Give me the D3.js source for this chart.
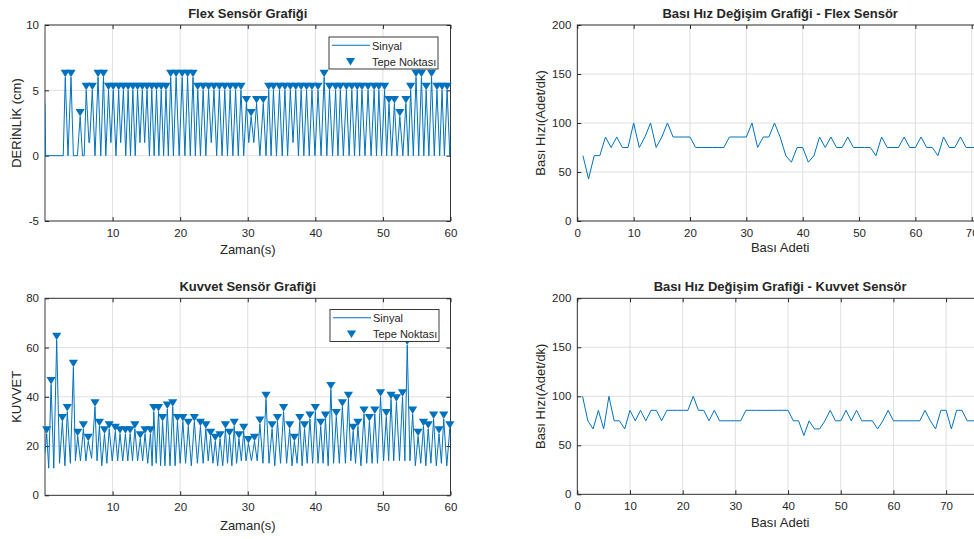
<!DOCTYPE html>
<html>
<head>
<meta charset="utf-8">
<script src="https://cdn.jsdelivr.net/npm/d3@7"></script>
<style>
  body { margin: 0; background: #fff; overflow: hidden; }
  svg { display: block; }
  text { font-family: "Liberation Sans", Arial, Helvetica, sans-serif; fill: #262626; }
</style>
</head>
<body>
<svg id="fig" width="974" height="539"></svg>
<script>
// ---- Flex sensor: detected peaks (time s, depth cm) ----
const flexPeakTime = [3.0,3.85,5.2,6.1,7.0,7.85,8.65,9.4,10.1,10.9,11.6,12.3,13.0,13.7,14.4,15.1,15.8,16.5,17.2,17.9,
  18.6,19.4,20.3,21.1,21.9,22.6,23.4,24.2,25.0,25.8,26.6,27.4,28.2,29.0,29.8,30.5,31.3,32.3,33.1,33.8,
  34.7,35.5,36.3,37.1,37.9,38.7,39.5,40.4,41.3,42.1,43.0,43.7,44.6,45.4,46.2,46.9,47.8,48.7,49.4,50.25,
  50.9,51.7,52.5,53.4,54.1,54.9,55.7,56.4,57.2,58.0,58.75,59.5];
const flexPeakDepth = [6,6,3,5,5,6,6,5,5,5,5,5,5,5,5,5,5,5,5,5,
  6,6,6,6,6,5,5,5,5,5,5,5,5,5,4,3,4,4,5,5,
  5,5,5,5,5,5,5,5,6,5,5,5,5,5,5,5,5,5,5,5,
  4,4,3,4,5,6,6,5,6,5,5,5];
// ---- Flex sensor: signal minima between compressions ----
const flexTroughTime = [0,0.1,2.7,3.4,4.2,4.8,5.55,5.8,6.5,6.6,7.4,8.25,9.0,9.75,10.5,11.2,11.95,12.65,13.35,14.05,
  14.75,15.45,16.15,16.85,17.55,18.25,19.0,19.85,20.7,21.5,22.25,23.0,23.8,24.6,25.4,26.2,27.0,27.8,28.6,29.4,
  30.15,30.9,31.8,32.7,33.45,34.25,35.1,35.9,36.7,37.5,38.3,39.1,39.95,40.85,41.7,42.55,43.35,44.15,45.0,45.8,
  46.55,47.35,48.25,49.05,49.8,50.55,51.3,52.1,52.95,53.75,54.5,55.3,56.05,56.8,57.6,58.4,59.1,59.9,60];
const flexTroughDepth = [4,0,0,0,0,0,0,0,1,1,0,0,0,1,0,1,0,0,0,1,
  1,0,0,0,0,0,0,0,0,0,0,0,0,1,0,0,0,0,0,0,
  1,1,0,0,0,0,0,0,1,0,0,0,0,0,0,0,0,0,0,0,
  0,0,0,0,0,0,0,0,0,0,0,0,0,0,0,0,0,0,1];

// ---- Force sensor: detected peaks ----
const forcePeakTime = [0.25,0.9,1.73,2.57,3.3,4.2,4.84,5.68,6.4,7.4,8.05,8.8,9.5,10.4,11.1,11.9,12.6,13.3,14.1,14.8,
  15.6,16.1,16.8,17.4,18.1,18.9,19.6,20.4,21.2,22.1,23.0,23.8,24.5,25.2,25.9,26.7,27.3,28.0,28.7,29.4,
  30.1,31.0,31.8,32.7,33.6,34.4,35.3,36.2,36.9,37.7,38.4,39.2,40.0,40.8,41.5,42.3,43.1,44.0,44.9,45.6,
  46.3,47.2,48.0,48.8,49.65,50.5,51.2,52.0,52.9,53.6,54.4,55.2,56.0,56.7,57.5,58.3,59.0,59.9];
const forcePeakValue = [25,45,63,30,34,52,24,27,22,36,28,25,27,26,25,25,25,27,23,25,
  25,34,34,30,35,36,30,30,28,30,28,27,24,22,23,27,24,28,23,26,
  21,22,29,39,27,30,34,27,22,30,27,31,34,28,31,43,32,36,39,26,
  28,33,30,33,40,32,39,38,40,61,33,24,28,27,31,25,31,27];
// ---- Force sensor: signal minima ----
const forceTroughTime = [0,0.55,1.3,2.15,2.95,3.75,4.5,5.25,6.05,6.9,7.7,8.4,9.15,9.95,10.75,11.5,12.25,12.95,13.7,14.45,15.2,
  15.85,16.45,17.1,17.75,18.5,19.25,20.0,20.8,21.65,22.55,23.4,24.15,24.85,25.55,26.3,27.0,27.65,28.35,29.05,29.75,
  30.55,31.4,32.25,33.15,34.0,34.85,35.75,36.55,37.3,38.05,38.8,39.6,40.4,41.15,41.9,42.7,43.55,44.45,45.25,45.95,
  46.75,47.6,48.4,49.2,50.1,50.85,51.6,52.45,53.25,54.0,54.8,55.6,56.35,57.1,57.9,58.65,59.45,60];
const forceTroughValue = [17,11,11,13,12,13,14,14,14,15,14,12,13,14,14,14,14,14,14,14,13,
  12,13,12,12,12,12,13,13,12,13,13,14,13,12,12,13,12,13,14,14,
  14,14,13,13,12,13,13,12,13,12,13,13,13,13,12,13,13,13,14,13,
  12,13,13,13,14,14,14,14,14,14,12,13,12,13,12,13,12,24];

// ---- Compression rate (per minute) for each compression interval ----
const flexRate = [66.7,42.9,66.7,66.7,85.7,75,85.7,75,75,100,75,85.7,100,75,85.7,100,85.7,85.7,85.7,85.7,
  75,75,75,75,75,75,85.7,85.7,85.7,85.7,100,75,85.7,85.7,100,85.7,66.7,60,75,75,
  60,66.7,85.7,75,85.7,75,75,85.7,75,75,75,75,66.7,85.7,75,75,75,85.7,75,75,
  85.7,75,75,66.7,85.7,75,75,85.7,75,75,75,75];
const forceRate = [100,75,66.7,85.7,66.7,100,75,75,66.7,85.7,75,85.7,75,85.7,85.7,75,85.7,85.7,85.7,85.7,
  85.7,100,85.7,85.7,75,85.7,75,75,75,75,75,85.7,85.7,85.7,85.7,85.7,85.7,85.7,85.7,85.7,
  75,75,60,75,66.7,66.7,75,85.7,75,75,85.7,75,85.7,75,75,75,66.7,75,85.7,75,
  75,75,75,75,75,85.7,75,66.7,85.7,85.7,66.7,85.7,85.7,75,75,75,66.7];

// ---- Tick values ----
const timeTicks = [10,20,30,40,50,60];
const depthTicks = [-5,0,5,10];
const forceTicks = [0,20,40,60,80];
const countTicks = [0,10,20,30,40,50,60,70];
const rateTicks = [0,50,100,150,200];

const BLUE = '#0072BD', INK = '#262626', GRID = '#dfdfdf';
const svg = d3.select('#fig');
const plain = d => String(d);   // hyphen-minus for negative ticks
let clipId = 0;

function panel(o) {
  const x = d3.scaleLinear().domain(o.xDomain).range(o.xRange);
  const y = d3.scaleLinear().domain(o.yDomain).range(o.yRange);
  const [x0, x1] = o.xRange, [yb, yt] = o.yRange;
  const g = svg.append('g');

  // grid
  g.append('g').selectAll('line').data(o.xTicks).join('line')
    .attr('x1', d => x(d)).attr('x2', d => x(d)).attr('y1', yt).attr('y2', yb)
    .attr('stroke', GRID).attr('stroke-width', 1);
  g.append('g').selectAll('line').data(o.yTicks).join('line')
    .attr('y1', d => y(d)).attr('y2', d => y(d)).attr('x1', x0).attr('x2', x1)
    .attr('stroke', GRID).attr('stroke-width', 1);

  // axes with inward ticks on all sides
  const styleAxis = sel => {
    sel.select('.domain').remove();
    sel.selectAll('line').attr('stroke', INK);
    sel.selectAll('text').attr('fill', INK).style('font-size', '11.5px')
      .style('font-family', '"Liberation Sans", Arial, sans-serif');
  };
  g.append('g').attr('transform', `translate(0,${yb})`)
    .call(d3.axisBottom(x).tickValues(o.xTicks).tickFormat(plain).tickSizeInner(-4).tickSizeOuter(0).tickPadding(8))
    .call(styleAxis);
  g.append('g').attr('transform', `translate(0,${yt})`)
    .call(d3.axisTop(x).tickValues(o.xTicks).tickSizeInner(-4).tickSizeOuter(0).tickFormat(''))
    .call(styleAxis);
  g.append('g').attr('transform', `translate(${x0},0)`)
    .call(d3.axisLeft(y).tickValues(o.yTicks).tickFormat(plain).tickSizeInner(-4).tickSizeOuter(0).tickPadding(6))
    .call(styleAxis);
  g.append('g').attr('transform', `translate(${x1},0)`)
    .call(d3.axisRight(y).tickValues(o.yTicks).tickSizeInner(-4).tickSizeOuter(0).tickFormat(''))
    .call(styleAxis);

  g.append('rect').attr('x', x0).attr('y', yt).attr('width', x1 - x0).attr('height', yb - yt)
    .attr('fill', 'none').attr('stroke', INK).attr('stroke-width', 0.9);

  // titles and labels
  g.append('text').attr('x', (x0 + x1) / 2).attr('y', yt - 7).attr('text-anchor', 'middle')
    .style('font-size', '13px').style('font-weight', 'bold').attr('fill', '#000').text(o.title);
  g.append('text').attr('x', (x0 + x1) / 2).attr('y', yb + o.xLabelDy).attr('text-anchor', 'middle')
    .style('font-size', '13px').text(o.xLabel);
  g.append('text').attr('transform', `translate(${o.yLabelX},${(yb + yt) / 2}) rotate(-90)`)
    .attr('text-anchor', 'middle').style('font-size', '13px').text(o.yLabel);

  const id = 'clip' + (clipId++);
  svg.append('clipPath').attr('id', id).append('rect')
    .attr('x', x0).attr('y', yt).attr('width', x1 - x0).attr('height', yb - yt);
  const plot = svg.append('g');
  const lineLayer = plot.append('g').attr('clip-path', `url(#${id})`);
  return { x, y, plot, lineLayer };
}

function tri(cx, tipY) {
  // downward-pointing marker whose tip sits on the peak
  return `M${cx - 4.6},${tipY - 7.5}L${cx + 4.6},${tipY - 7.5}L${cx},${tipY}Z`;
}

function legend(x0, y0) {
  const g = svg.append('g');
  g.append('rect').attr('x', x0).attr('y', y0).attr('width', 109).attr('height', 32)
    .attr('fill', '#fff').attr('stroke', INK).attr('stroke-width', 0.9);
  g.append('path').attr('d', `M${x0 + 3},${y0 + 8.2}H${x0 + 41}`)
    .attr('stroke', BLUE).attr('stroke-width', 1.1).attr('fill', 'none');
  g.append('text').attr('x', x0 + 43).attr('y', y0 + 12.5).style('font-size', '11px').text('Sinyal');
  g.append('path').attr('d', tri(x0 + 21.5, y0 + 28.5)).attr('fill', BLUE);
  g.append('text').attr('x', x0 + 43).attr('y', y0 + 28.5).style('font-size', '11px').text('Tepe Noktası');
}

function signal(p, peakT, peakV, troughT, troughV) {
  const pts = peakT.map((t, i) => [t, peakV[i]])
    .concat(troughT.map((t, i) => [t, troughV[i]]))
    .sort((a, b) => a[0] - b[0]);
  const line = d3.line().x(d => p.x(d[0])).y(d => p.y(d[1]));
  p.lineLayer.append('path').datum(pts).attr('d', line)
    .attr('fill', 'none').attr('stroke', BLUE).attr('stroke-width', 1).attr('stroke-linejoin', 'round');
  p.plot.append('g').selectAll('path').data(peakT).join('path')
    .attr('d', (t, i) => tri(p.x(t), p.y(peakV[i]))).attr('fill', BLUE);
}

function rateLine(p, rates) {
  const line = d3.line().x((d, i) => p.x(i + 1)).y(d => p.y(d));
  p.lineLayer.append('path').datum(rates).attr('d', line)
    .attr('fill', 'none').attr('stroke', BLUE).attr('stroke-width', 1).attr('stroke-linejoin', 'round');
}

// Flex sensor signal
const pFlex = panel({
  xDomain: [0, 60], yDomain: [-5, 10], xRange: [45, 450.5], yRange: [221, 25],
  xTicks: timeTicks, yTicks: depthTicks, title: 'Flex Sensör Grafiği',
  xLabel: 'Zaman(s)', xLabelDy: 33, yLabel: 'DERİNLİK (cm)', yLabelX: 21
});
signal(pFlex, flexPeakTime, flexPeakDepth, flexTroughTime, flexTroughDepth);
legend(329, 37);

// Force sensor signal
const pForce = panel({
  xDomain: [0, 60], yDomain: [0, 80], xRange: [45, 450.5], yRange: [495.3, 298.3],
  xTicks: timeTicks, yTicks: forceTicks, title: 'Kuvvet Sensör Grafiği',
  xLabel: 'Zaman(s)', xLabelDy: 35, yLabel: 'KUVVET', yLabelX: 21
});
signal(pForce, forcePeakTime, forcePeakValue, forceTroughTime, forceTroughValue);
legend(330, 309.5);

// Compression rate, flex sensor
const pFlexRate = panel({
  xDomain: [0, flexRate.length], yDomain: [0, 200], xRange: [577.3, 983], yRange: [221, 25],
  xTicks: countTicks, yTicks: rateTicks, title: 'Bası Hız Değişim Grafiği - Flex Sensör',
  xLabel: 'Bası Adeti', xLabelDy: 31, yLabel: 'Bası Hızı(Adet/dk)', yLabelX: 545
});
rateLine(pFlexRate, flexRate);

// Compression rate, force sensor
const pForceRate = panel({
  xDomain: [0, forceRate.length], yDomain: [0, 200], xRange: [577.3, 983], yRange: [494.3, 298.3],
  xTicks: countTicks, yTicks: rateTicks, title: 'Bası Hız Değişim Grafiği - Kuvvet Sensör',
  xLabel: 'Bası Adeti', xLabelDy: 33, yLabel: 'Bası Hızı(Adet/dk)', yLabelX: 545
});
rateLine(pForceRate, forceRate);
</script>
</body>
</html>
